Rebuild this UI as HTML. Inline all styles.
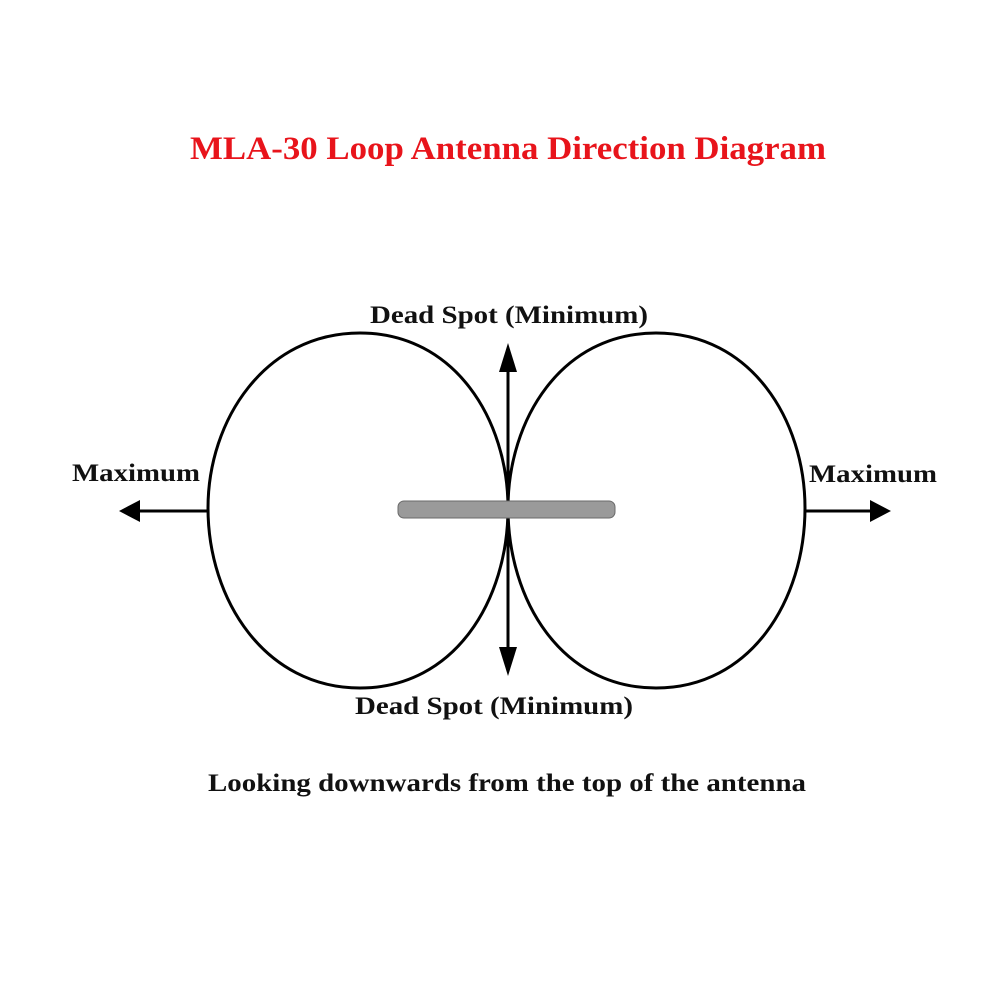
<!DOCTYPE html>
<html><head><style>
html,body{margin:0;padding:0;background:#fff;}
</style></head><body>
<svg width="1000" height="1000" viewBox="0 0 1000 1000" xmlns="http://www.w3.org/2000/svg" style="display:block">
<rect width="1000" height="1000" fill="#fff"/>
<text x="190" y="159" textLength="636" lengthAdjust="spacingAndGlyphs" font-family="Liberation Serif, serif" font-weight="bold" font-size="33" fill="#e8141b">MLA-30 Loop Antenna Direction Diagram</text>
<g fill="none" stroke="#000" stroke-width="3">
<path d="M508,508 C508,420 455,333 360,333 C265,333 208,420 208,508 C208,600 265,688 360,688 C455,688 508,600 508,508 Z"/>
<path d="M508,508 C508,420 561,333 656,333 C751,333 805,420 805,508 C805,600 751,688 656,688 C561,688 508,600 508,508 Z"/>
<line x1="508" y1="360" x2="508" y2="660"/>
<line x1="208" y1="511" x2="135" y2="511"/>
<line x1="805" y1="511" x2="875" y2="511"/>
</g>
<polygon points="508,343 499,372 517,372" fill="#000"/>
<polygon points="508,676 499,647 517,647" fill="#000"/>
<polygon points="119,511 140,500 140,522" fill="#000"/>
<polygon points="891,511 870,500 870,522" fill="#000"/>
<rect x="398" y="501" width="217" height="17" rx="6" fill="#9a9a9a" stroke="#6a6a6a" stroke-width="1"/>
<g font-family="Liberation Serif, serif" font-weight="bold" font-size="25" fill="#111" lengthAdjust="spacingAndGlyphs">
<text x="370" y="323" textLength="278" lengthAdjust="spacingAndGlyphs">Dead Spot (Minimum)</text>
<text x="72" y="481" textLength="128" lengthAdjust="spacingAndGlyphs">Maximum</text>
<text x="809" y="482" textLength="128" lengthAdjust="spacingAndGlyphs">Maximum</text>
<text x="355" y="714" textLength="278" lengthAdjust="spacingAndGlyphs">Dead Spot (Minimum)</text>
<text x="208" y="791" textLength="598" lengthAdjust="spacingAndGlyphs">Looking downwards from the top of the antenna</text>
</g>
</svg>
</body></html>
